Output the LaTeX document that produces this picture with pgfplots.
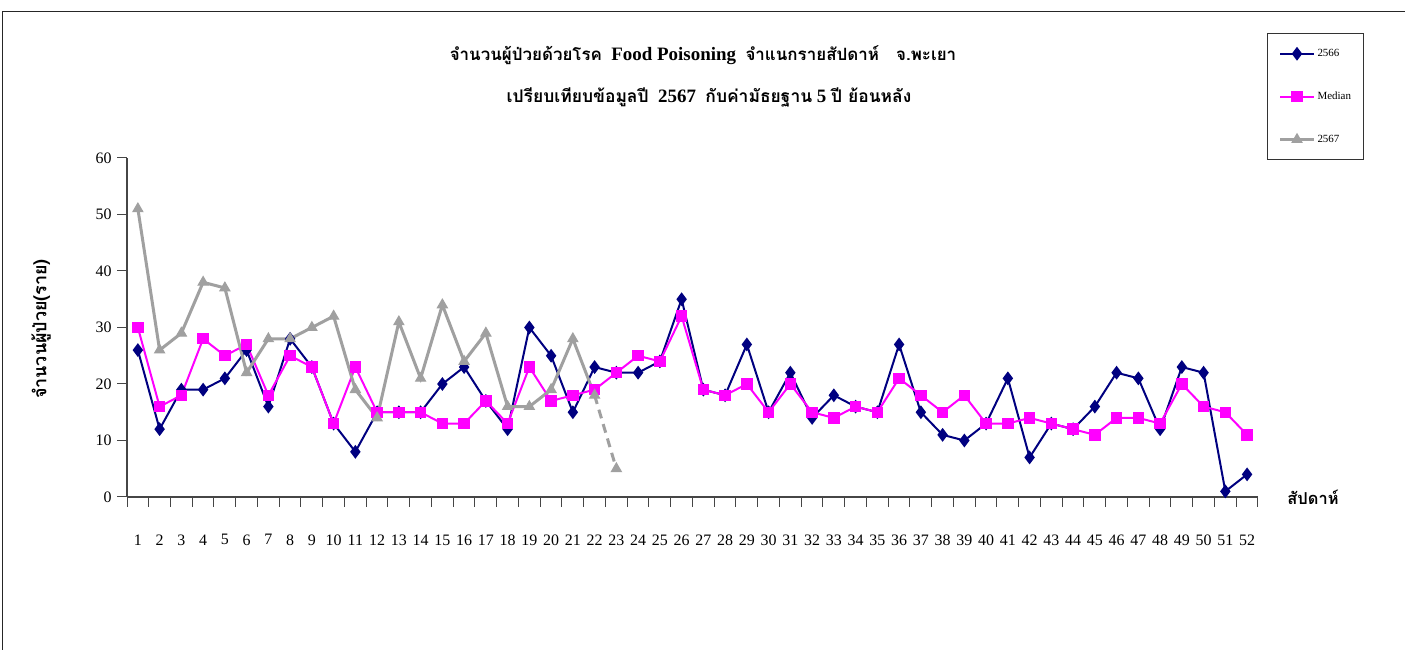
\documentclass[border=0pt]{standalone}
\usepackage{fontspec}
\setmainfont{Liberation Serif}
\newfontfamily\thaifont[Script=Thai]{Loma}
\usepackage{pgfplots}
\usepackage{pgfplotstable}
\pgfplotsset{compat=1.18}
\definecolor{navyc}{RGB}{0,0,128}
\definecolor{magc}{RGB}{255,0,255}
\definecolor{grayc}{RGB}{160,160,160}
\definecolor{axc}{RGB}{70,70,70}

\pgfplotstableread{
w a m
1 26 30
2 12 16
3 19 18
4 19 28
5 21 25
6 26 27
7 16 18
8 28 25
9 23 23
10 13 13
11 8 23
12 15 15
13 15 15
14 15 15
15 20 13
16 23 13
17 17 17
18 12 13
19 30 23
20 25 17
21 15 18
22 23 19
23 22 22
24 22 25
25 24 24
26 35 32
27 19 19
28 18 18
29 27 20
30 15 15
31 22 20
32 14 15
33 18 14
34 16 16
35 15 15
36 27 21
37 15 18
38 11 15
39 10 18
40 13 13
41 21 13
42 7 14
43 13 13
44 12 12
45 16 11
46 22 14
47 21 14
48 12 13
49 23 20
50 22 16
51 1 15
52 4 11
}\datatab

\pgfplotstableread{
w c
1 51
2 26
3 29
4 38
5 37
6 22
7 28
8 28
9 30
10 32
11 19
12 14
13 31
14 21
15 34
16 24
17 29
18 16
19 16
20 19
21 28
22 18
}\curtab

\pgfplotstableread{
w c
22 18
23 5
}\dashtab

\begin{document}
\begin{tikzpicture}
\useasboundingbox (0bp,0bp) rectangle (1405bp,650bp);
\fill[white] (0bp,0bp) rectangle (1405bp,650bp);
\draw[line width=1.4bp, black!85] (2.5bp,-5bp) -- (2.5bp,638.5bp) -- (1410bp,638.5bp);
\begin{axis}[
  at={(127bp,153bp)}, anchor=south west,
  scale only axis, width=1131bp, height=339bp,
  xmin=0.5, xmax=52.5, ymin=0, ymax=60,
  axis x line*=bottom, axis y line*=left,
  axis line style={axc, line width=1.2bp},
  xtick={1,...,52},
  major x tick style={draw=none},
  minor xtick={0.5,1.5,...,52.5},
  minor x tick style={axc, line width=1bp},
  minor tick length=10bp,
  ytick={0,10,...,60},
  y tick style={axc, line width=1bp},
  major tick length=10bp,
  tick align=outside,
  /pgf/number format/assume math mode=true,
  ticklabel style={font=\fontsize{16}{18}\selectfont},
  xticklabel style={yshift=-24bp},
  yticklabel style={xshift=-2bp},
  legend style={at={(1.008,1.369)}, anchor=north west, draw=black!80, line width=1bp,
    font=\fontsize{11}{13}\selectfont, row sep=30bp, inner xsep=11bp, inner ysep=14bp,
    cells={anchor=west}},
  legend image code/.code={\draw[mark repeat=2,mark phase=2,#1] plot coordinates {(0bp,0bp) (17bp,0bp) (34bp,0bp)};},
  clip=false,
]
\addplot[navyc, line width=2bp, mark=diamond*, mark size=5.3bp, mark options={solid}] table[x=w,y=a] {\datatab};
\addlegendentry{2566}
\addplot[magc, line width=2bp, mark=square*, mark size=4.7bp, mark options={solid}] table[x=w,y=m] {\datatab};
\addlegendentry{Median}
\addplot[grayc, line width=3bp, mark=triangle*, mark size=5.8bp, mark options={solid, line width=1bp}] table[x=w,y=c] {\curtab};
\addlegendentry{2567}
\addplot[grayc, line width=3bp, dashed, dash pattern=on 9bp off 6bp, mark=triangle*, mark size=5.8bp, mark indices={2}, mark options={solid, line width=1bp}, forget plot] table[x=w,y=c] {\dashtab};
\end{axis}
\node[font=\bfseries\fontsize{19}{22}\selectfont] at (703bp,595bp) {{\thaifont\fontsize{17}{20}\selectfont จำนวนผู้ป่วยด้วยโรค}\ \ Food Poisoning\ \ {\thaifont\fontsize{17}{20}\selectfont จำแนกรายสัปดาห์\ \ \ จ.พะเยา}};
\node[font=\bfseries\fontsize{19}{22}\selectfont] at (709bp,553bp) {{\thaifont\fontsize{17.5}{20}\selectfont เปรียบเทียบข้อมูลปี}\ \ 2567\ \ {\thaifont\fontsize{17.5}{20}\selectfont กับค่ามัธยฐาน} 5 {\thaifont\fontsize{17.5}{20}\selectfont ปี ย้อนหลัง}};
\node[rotate=90, font=\thaifont\bfseries\fontsize{18}{21}\selectfont] at (41bp,321bp) {จำนวนผู้ป่วย(ราย)};
\node[font=\thaifont\bfseries\fontsize{16.5}{19}\selectfont] at (1313bp,153bp) {สัปดาห์};
\end{tikzpicture}
\end{document}
